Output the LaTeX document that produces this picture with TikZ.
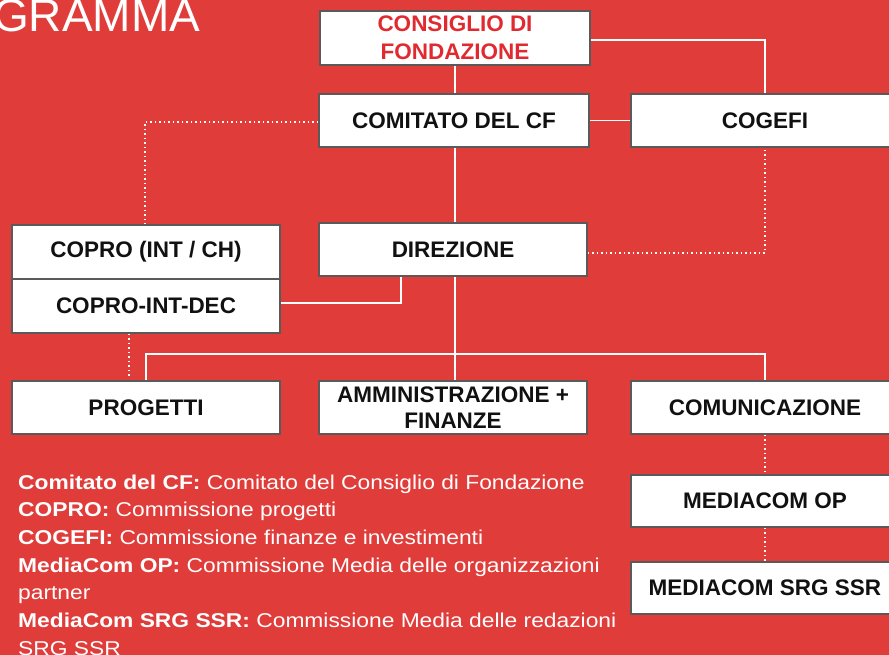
\documentclass[tikz,border=0pt]{standalone}
\usepackage{fontspec}
\setmainfont{Liberation Sans}
\newfontfamily\legendfont[FakeStretch=1.14]{Liberation Sans}
\usetikzlibrary{calc}
\definecolor{bgred}{HTML}{E03C3A}
\definecolor{txtred}{HTML}{E12A30}
\definecolor{boxedge}{HTML}{5A5A5A}
\definecolor{boxtext}{HTML}{111111}
\tikzset{
  orgbox/.style={draw=boxedge, line width=1.5pt, fill=white, minimum width=268pt, minimum height=53pt,
    inner sep=0pt, align=center, text=boxtext, font=\fontsize{22.5}{26}\selectfont\bfseries},
  link/.style={draw=white, line width=1.6pt},
  dotlink/.style={draw=white, line width=1.6pt, dash pattern=on 1.5pt off 3pt}
}
\begin{document}
\begin{tikzpicture}[x=1pt,y=-1pt]
\fill[bgred] (0,0) rectangle (889,655);
\useasboundingbox (0,0) rectangle (889,655);
\node[anchor=base west, text=white, inner sep=0pt, font=\fontsize{46}{50}\selectfont] (title) at (-7,32) {GRAMMA};
\coordinate (k1) at (765,40);
\coordinate (k2) at (145,122);
\coordinate (k3) at (765,253);
\coordinate (k4) at (401,303);
\coordinate (k5) at (146,354);
\coordinate (k6) at (765,354);
\coordinate (k7) at (129,378);
% boxes
\node[orgbox, minimum width=270pt, minimum height=54pt, text=txtred] (cdf) at (455,38) {\raisebox{-2pt}{CONSIGLIO DI}\\[2pt]\raisebox{-2pt}{FONDAZIONE}};
\node[orgbox, minimum width=270pt] (com) at (454,120.5) {COMITATO DEL CF};
\node[orgbox] (cog) at (765,120.5) {COGEFI};
\node[orgbox] (dir) at (453,249.5) {DIREZIONE};
\node[orgbox, minimum height=54pt] (cp1) at (146,252) {COPRO (INT / CH)};
\node[orgbox, minimum height=54pt] (cp2) at (146,306) {COPRO-INT-DEC};
\node[orgbox] (prog) at (146,407.5) {PROGETTI};
\node[orgbox] (amm) at (453,407.5) {AMMINISTRAZIONE +\\FINANZE};
\node[orgbox] (comu) at (765,407.5) {COMUNICAZIONE};
\node[orgbox, minimum height=52pt] (mop) at (765,501) {MEDIACOM OP};
\node[orgbox, minimum height=52pt] (msrg) at (765,588) {MEDIACOM SRG SSR};
% solid connectors
\draw[link] (cdf.east |- k1) -- (k1) -- (cog.north -| k1);
\draw[link] (cdf.south) -- (com.north -| cdf.south);
\draw[link] (com.east |- cog.west) -- (cog.west);
\draw[link] (com.south -| cdf.south) -- (dir.north -| cdf.south);
\draw[link] (dir.south -| cdf.south) -- (amm.north -| cdf.south);
\draw[link] (dir.south -| k4) -- (k4) -- (cp2.east |- k4);
\draw[link] (prog.north -| k5) -- (k5) -- (k6) -- (comu.north -| k6);
% dotted connectors
\draw[dotlink] (com.west |- k2) -- (k2) -- (cp1.north -| k2);
\draw[dotlink] (dir.east |- k3) -- (k3) -- (cog.south -| k3);
\draw[dotlink] (cp2.south -| k7) -- (k7);
\draw[dotlink] (comu.south) -- (mop.north);
\draw[dotlink] (mop.south) -- (msrg.north);
% legend
\node[anchor=north west, inner sep=0pt, align=left, text=white, font=\legendfont\fontsize{20}{27.7}\selectfont] (legend) at (18,474.5)
{\textbf{Comitato del CF:} Comitato del Consiglio di Fondazione\\
\textbf{COPRO:} Commissione progetti\\
\textbf{COGEFI:} Commissione finanze e investimenti\\
\textbf{MediaCom OP:} Commissione Media delle organizzazioni\\
partner\\
\textbf{MediaCom SRG SSR:} Commissione Media delle redazioni\\
SRG SSR};
\end{tikzpicture}
\end{document}
